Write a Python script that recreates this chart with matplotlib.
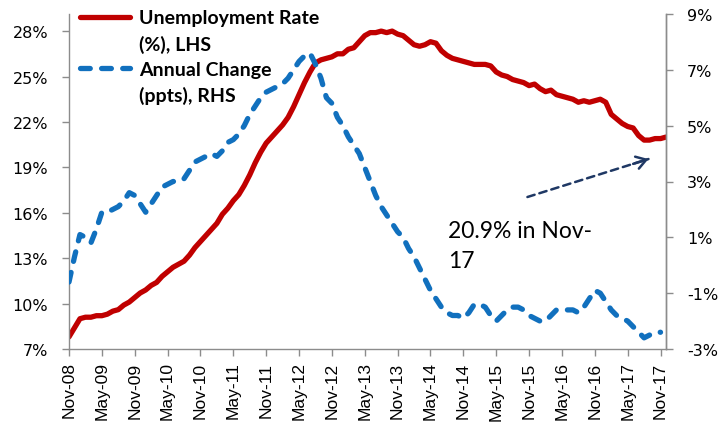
import matplotlib
matplotlib.use("Agg")
import matplotlib.pyplot as plt
from matplotlib.lines import Line2D
from matplotlib.font_manager import FontProperties

# Monthly series starting Nov-08
unemployment = [
    7.8, 8.4, 9.0, 9.1, 9.1, 9.2, 9.2, 9.3, 9.5, 9.6,
    9.9, 10.1, 10.4, 10.7, 10.9, 11.2, 11.4, 11.8, 12.1, 12.4,
    12.6, 12.8, 13.2, 13.7, 14.1, 14.5, 14.9, 15.3, 15.9, 16.3,
    16.8, 17.2, 17.8, 18.5, 19.3, 20.0, 20.6, 21.0, 21.4, 21.8,
    22.3, 23.0, 23.8, 24.6, 25.3, 25.9, 26.1, 26.2, 26.3, 26.5,
    26.5, 26.8, 26.9, 27.3, 27.7, 27.9, 27.9, 28.0, 27.9, 28.0,
    27.8, 27.7, 27.4, 27.1, 27.0, 27.1, 27.3, 27.2, 26.7, 26.4,
    26.2, 26.1, 26.0, 25.9, 25.8, 25.8, 25.8, 25.7, 25.3, 25.1,
    25.0, 24.8, 24.7, 24.6, 24.4, 24.5, 24.2, 24.0, 24.1, 23.8,
    23.7, 23.6, 23.5, 23.3, 23.4, 23.3, 23.4, 23.5, 23.3, 22.5,
    22.2, 21.9, 21.7, 21.6, 21.1, 20.8, 20.8, 20.9, 20.9, 21.0,
]

annual_change = [
    -0.6, 0.3, 1.1, 1.0, 0.8, 1.3, 1.9, 1.9, 2.0, 2.1,
    2.3, 2.6, 2.5, 2.2, 1.9, 2.2, 2.5, 2.8, 2.9, 3.0,
    3.0, 3.1, 3.4, 3.7, 3.8, 3.9, 4.0, 3.9, 4.1, 4.4,
    4.5, 4.7, 5.0, 5.4, 5.7, 6.0, 6.2, 6.3, 6.4, 6.5,
    6.7, 7.0, 7.3, 7.5, 7.6, 7.2, 6.7, 6.0, 5.8, 5.3,
    5.0, 4.6, 4.3, 4.0, 3.5, 3.0, 2.5, 2.1, 1.8, 1.5,
    1.2, 1.0, 0.6, 0.3, -0.1, -0.5, -0.9, -1.2, -1.5, -1.7,
    -1.8, -1.8, -1.9, -1.7, -1.4, -1.4, -1.5, -1.8, -2.0, -1.8,
    -1.6, -1.5, -1.5, -1.6, -1.8, -1.9, -2.0, -2.0, -1.8, -1.6,
    -1.6, -1.6, -1.6, -1.7, -1.5, -1.2, -0.9, -1.0, -1.3, -1.6,
    -1.8, -1.9, -2.0, -2.2, -2.4, -2.6, -2.5, -2.4, -2.4,
]

tick_labels = [
    "Nov-08", "May-09", "Nov-09", "May-10", "Nov-10", "May-11", "Nov-11",
    "May-12", "Nov-12", "May-13", "Nov-13", "May-14", "Nov-14", "May-15",
    "Nov-15", "May-16", "Nov-16", "May-17", "Nov-17",
]
left_ticks = [7, 10, 13, 16, 19, 22, 25, 28]
right_ticks = [-3, -1, 1, 3, 5, 7, 9]

RED = "#C00000"
BLUE = "#1170BE"
NAVY = "#1F3864"
GREY = "#8C8C8C"

fig = plt.figure(figsize=(7.19, 4.31), dpi=100)
W, H = 719, 431
ax = fig.add_axes([69 / W, 1 - 350 / H, (666 - 69) / W, (350 - 15) / H])
ax2 = ax.twinx()

x_red = list(range(len(unemployment)))
x_blue = list(range(len(annual_change)))

ax.plot(x_red, unemployment, color=RED, lw=3.8,
        solid_capstyle="round", solid_joinstyle="round")
ax2.plot(x_blue, annual_change, color=BLUE, lw=3.8,
         dashes=(1.85, 2.15), dash_capstyle="round", dash_joinstyle="round")

ax.set_xlim(0, len(unemployment) - 1)
ax.set_ylim(7, 29.13)
ax2.set_ylim(-3, 9)

tick_font = FontProperties(family="DejaVu Sans", size=11.5)
ax.set_yticks(left_ticks)
ax.set_yticklabels([f"{v}%" for v in left_ticks], fontproperties=tick_font)
ax2.set_yticks(right_ticks)
ax2.set_yticklabels([f"{v}%" for v in right_ticks], fontproperties=tick_font)

ax.set_xticks(list(range(0, 6 * len(tick_labels), 6)))
ax.set_xticklabels(tick_labels, rotation=90,
                   fontproperties=FontProperties(family="Liberation Sans", size=12.5))

for a in (ax, ax2):
    for s in a.spines.values():
        s.set_color(GREY)
        s.set_linewidth(1.0)
    a.spines["top"].set_visible(False)
ax2.spines["left"].set_visible(False)
ax2.spines["bottom"].set_visible(False)

ax.tick_params(axis="y", direction="out", length=5, width=1, color=GREY, pad=10)
ax.tick_params(axis="x", direction="out", length=5, width=1, color=GREY, pad=4)
ax2.tick_params(axis="y", direction="out", length=5, width=1, color=GREY, pad=10)

# Legend: each series label split across two rows
handles = [
    Line2D([], [], color=RED, lw=3.8, solid_capstyle="round"),
    Line2D([], [], linestyle="none"),
    Line2D([], [], color=BLUE, lw=3.8, dashes=(1.85, 2.15), dash_capstyle="round"),
    Line2D([], [], linestyle="none"),
]
labels = ["Unemployment Rate", "(%), LHS", "Annual Change", "(ppts), RHS"]
ax2.legend(handles, labels, loc="upper left", bbox_to_anchor=(0.018, 1.014),
           frameon=False, borderpad=0, borderaxespad=0, handlelength=2.6,
           handletextpad=0.45, labelspacing=0.42,
           prop=FontProperties(family="Lato", weight="bold", size=14))

# Callout for the latest reading
ax.annotate("", xy=(105.8, 19.55), xytext=(83.7, 17.04),
            arrowprops=dict(arrowstyle="-", color=NAVY, lw=1.8, linestyle=(0, (3, 2)),
                            shrinkA=0, shrinkB=0))
ax.annotate("", xy=(105.8, 19.55), xytext=(103.0, 19.23),
            arrowprops=dict(arrowstyle="->,head_length=0.7,head_width=0.45",
                            color=NAVY, lw=1.8, shrinkA=0, shrinkB=0))
ax.text(69.2, 14.4, "20.9% in Nov-", family="Lato", fontsize=16.5,
        color="black", va="baseline", ha="left")
ax.text(69.2, 12.42, "17", family="Lato", fontsize=16.5,
        color="black", va="baseline", ha="left")

fig.savefig("out.png", dpi=100)
